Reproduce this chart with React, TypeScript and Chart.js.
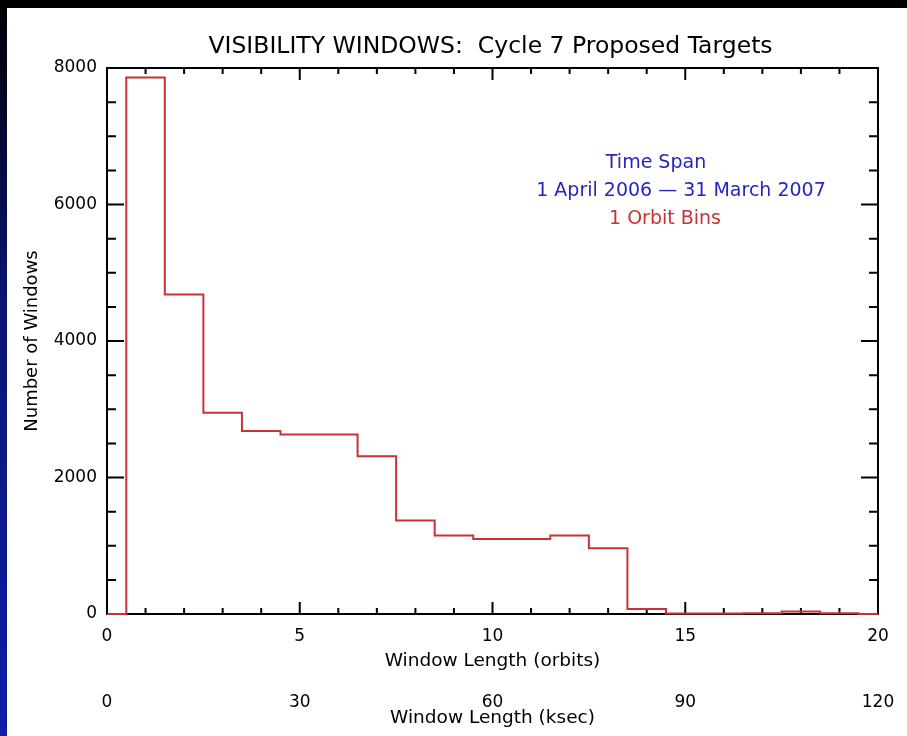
import React, { useEffect, useRef } from "react";
import { Chart, registerables } from "chart.js";

Chart.register(...registerables);

// ---- data ----
const orbitBins = [0, 1, 2, 3, 4, 5, 6, 7, 8, 9, 10, 11, 12, 13, 14, 15, 16, 17, 18, 19, 20];
const windowCounts = [0, 7860, 4680, 2950, 2680, 2630, 2630, 2310, 1370, 1150, 1100, 1100, 1150, 965, 75, 8, 8, 10, 35, 10, 0];
const countTicks = [0, 2000, 4000, 6000, 8000];
const orbitTicks = [0, 5, 10, 15, 20];
const ksecTicks = [0, 30, 60, 90, 120];
const chartTitle = "VISIBILITY WINDOWS:  Cycle 7 Proposed Targets";
const noteLines = ["Time Span", "1 April 2006 \u2014 31 March 2007", "1 Orbit Bins"];

const FONT = "'DejaVu Sans', 'Liberation Sans', sans-serif";
const BLUE = "#2626c4";
const RED = "#c83232";

const framePlugin = {
  id: "frame",
  beforeDraw(chart: any) {
    const { ctx, width, height } = chart;
    ctx.save();
    ctx.fillStyle = "#ffffff";
    ctx.fillRect(0, 0, width, height);
    const g = ctx.createLinearGradient(0, 0, 0, height);
    g.addColorStop(0, "#000000");
    g.addColorStop(0.08, "#020318");
    g.addColorStop(0.4, "#0a1470");
    g.addColorStop(1, "#0c1fa8");
    ctx.fillStyle = g;
    ctx.fillRect(0, 0, 7, height);
    ctx.fillStyle = "#000000";
    ctx.fillRect(0, 0, width, 8);
    ctx.restore();
  },
  beforeDatasetsDraw(chart: any) {
    const { ctx, chartArea } = chart;
    const xs = chart.scales.x;
    const ys = chart.scales.y;
    const { left, right, top, bottom } = chartArea;
    ctx.save();
    ctx.strokeStyle = "#000";
    ctx.lineWidth = 2;
    ctx.strokeRect(left, top, right - left, bottom - top);
    ctx.beginPath();
    for (let v = xs.min; v <= xs.max; v += 1) {
      const px = xs.getPixelForValue(v);
      const len = v % 5 === 0 ? 12 : 6;
      ctx.moveTo(px, bottom);
      ctx.lineTo(px, bottom - len);
      ctx.moveTo(px, top);
      ctx.lineTo(px, top + len);
    }
    for (let v = ys.min; v <= ys.max; v += 500) {
      const py = ys.getPixelForValue(v);
      const len = v % 2000 === 0 ? 17 : 9;
      ctx.moveTo(left, py);
      ctx.lineTo(left + len, py);
      ctx.moveTo(right, py);
      ctx.lineTo(right - len, py);
    }
    ctx.stroke();
    ctx.restore();
  },
  afterDraw(chart: any) {
    const { ctx, chartArea } = chart;
    ctx.save();
    ctx.textAlign = "center";
    ctx.textBaseline = "middle";
    ctx.fillStyle = "#000";
    ctx.font = `23.5px ${FONT}`;
    ctx.fillText(chartTitle, (chartArea.left + chartArea.right) / 2 - 2, 47);
    ctx.font = `19px ${FONT}`;
    ctx.fillStyle = BLUE;
    ctx.fillText(noteLines[0], 656, 163);
    ctx.fillText(noteLines[1], 681, 191);
    ctx.fillStyle = RED;
    ctx.fillText(noteLines[2], 665, 219);
    ctx.restore();
  },
};

export default function App() {
  const ref = useRef<HTMLCanvasElement>(null);

  useEffect(() => {
    const tickFont = { family: FONT, size: 17 };
    const titleFont = { family: FONT, size: 18.5 };
    const chart = new Chart(ref.current as HTMLCanvasElement, {
      type: "line",
      data: {
        datasets: [
          {
            data: orbitBins.map((b, i) => ({ x: b, y: windowCounts[i] })),
            stepped: "middle",
            borderColor: RED,
            borderWidth: 2,
            pointRadius: 0,
            fill: false,
            clip: false,
          } as any,
        ],
      },
      options: {
        animation: false,
        responsive: false,
        devicePixelRatio: 1,
        layout: { padding: { left: 8, top: 68, right: 29, bottom: 0 } },
        plugins: {
          legend: { display: false },
          tooltip: { enabled: false },
          title: { display: false },
        },
        scales: {
          x: {
            type: "linear",
            axis: "x",
            position: "bottom",
            weight: 0,
            min: 0,
            max: 20,
            grid: { display: false, drawTicks: false },
            border: { display: false },
            ticks: {
              color: "#000",
              font: tickFont,
              padding: 12,
              maxRotation: 0,
              autoSkip: false,
              callback: (v: any) => String(v),
            },
            afterBuildTicks: (s: any) => {
              s.ticks = orbitTicks.map((v) => ({ value: v }));
            },
            afterFit: (s: any) => {
              s.height = 70;
            },
            title: {
              display: true,
              text: "Window Length (orbits)",
              color: "#000",
              font: titleFont,
              padding: { top: 0, bottom: 12 },
            },
          },
          x2: {
            type: "linear",
            axis: "x",
            position: "bottom",
            weight: 1,
            min: 0,
            max: 120,
            grid: { display: false, drawTicks: false },
            border: { display: false },
            ticks: {
              color: "#000",
              font: tickFont,
              padding: 8,
              maxRotation: 0,
              autoSkip: false,
              callback: (v: any) => String(v),
            },
            afterBuildTicks: (s: any) => {
              s.ticks = ksecTicks.map((v) => ({ value: v }));
            },
            afterFit: (s: any) => {
              s.height = 52;
            },
            title: {
              display: true,
              text: "Window Length (ksec)",
              color: "#000",
              font: titleFont,
              padding: { top: 0, bottom: 7 },
            },
          },
          y: {
            type: "linear",
            position: "left",
            min: 0,
            max: 8000,
            grid: { display: false, drawTicks: false },
            border: { display: false },
            ticks: {
              color: "#000",
              font: tickFont,
              padding: 10,
              autoSkip: false,
              callback: (v: any) => String(v),
            },
            afterBuildTicks: (s: any) => {
              s.ticks = countTicks.map((v) => ({ value: v }));
            },
            afterFit: (s: any) => {
              s.width = 99;
            },
            title: {
              display: true,
              text: "Number of Windows",
              color: "#000",
              font: { family: FONT, size: 18 },
              padding: { top: 14, bottom: 0 },
            },
          },
        },
      } as any,
      plugins: [framePlugin],
    });
    return () => chart.destroy();
  }, []);

  return (
    <div style={{ position: "absolute", left: 0, top: 0, width: 907, height: 736 }}>
      <canvas ref={ref} width={907} height={736} style={{ display: "block", width: 907, height: 736 }} />
    </div>
  );
}
